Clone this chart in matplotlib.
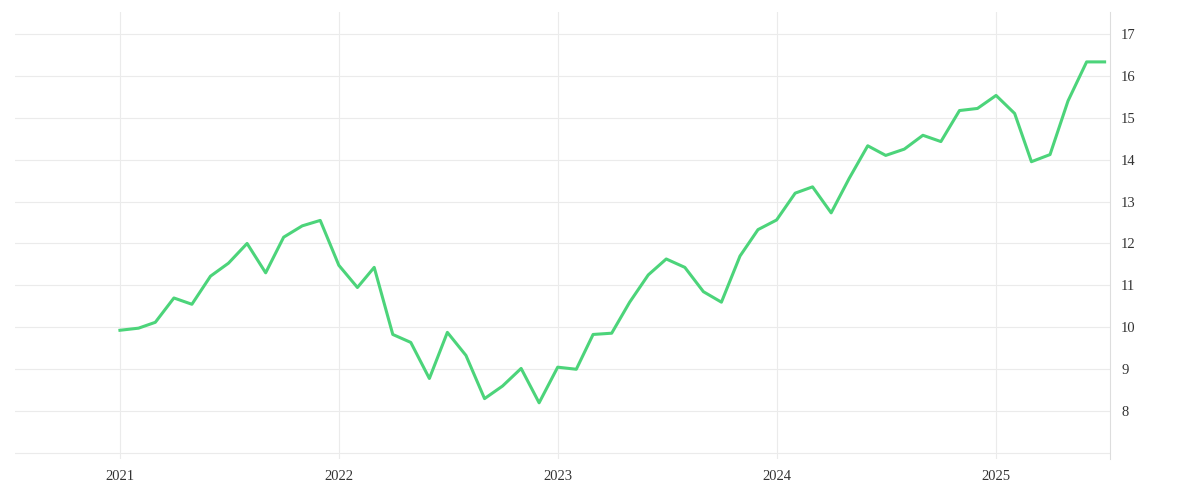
import matplotlib
matplotlib.use("Agg")
import matplotlib.pyplot as plt
import pandas as pd

dates = pd.date_range("2021-01-01", periods=55, freq="MS")
values = [9.93, 9.98, 10.12, 10.7, 10.55, 11.22, 11.53, 12.0, 11.3, 12.15, 12.42, 12.55,
          11.48, 10.95, 11.43, 9.83, 9.64, 8.78, 9.88, 9.33, 8.3, 8.6, 9.02, 8.2,
          9.05, 9.0, 9.83, 9.86, 10.6, 11.25, 11.63, 11.43, 10.85, 10.6, 11.7, 12.33,
          12.56, 13.2, 13.35, 12.73, 13.55, 14.33, 14.1, 14.25, 14.58, 14.43, 15.17, 15.22,
          15.53, 15.1, 13.95, 14.12, 15.4, 16.33, 16.33]
year_ticks = pd.to_datetime(["2021-01-01", "2022-01-01", "2023-01-01", "2024-01-01", "2025-01-01"])
year_labels = ["2021", "2022", "2023", "2024", "2025"]
y_ticks = [8, 9, 10, 11, 12, 13, 14, 15, 16, 17]

plt.rcParams['font.family'] = ['Liberation Serif', 'DejaVu Serif']
fig = plt.figure(figsize=(12, 5), dpi=100)
ax = fig.add_axes([0.0125, 0.082, 0.9125, 0.894])
ax.plot(dates, values, color="#4cd47a", lw=2.2)
ax.set_xlim(pd.Timestamp("2020-07-10"), pd.Timestamp("2025-07-10"))
ax.set_ylim(6.86, 17.52)
ax.yaxis.tick_right()
ax.set_yticks(y_ticks)
ax.set_xticks(year_ticks)
ax.set_xticklabels(year_labels)
ax.set_yticks([7, 8, 9, 10, 11, 12, 13, 14, 15, 16, 17, 7.0], minor=False)
ax.set_yticks(y_ticks)
ax.grid(True, color="#ebebeb", lw=0.8)
for s in ["top", "left", "bottom"]:
    ax.spines[s].set_visible(False)
ax.spines["right"].set_color("#dddddd")
ax.tick_params(axis="both", length=0, labelsize=10.5, colors="#333333", pad=8)
ax.axhline(6.86 + 0.14, color="#ebebeb", lw=0.8)
fig.savefig("out.png")
